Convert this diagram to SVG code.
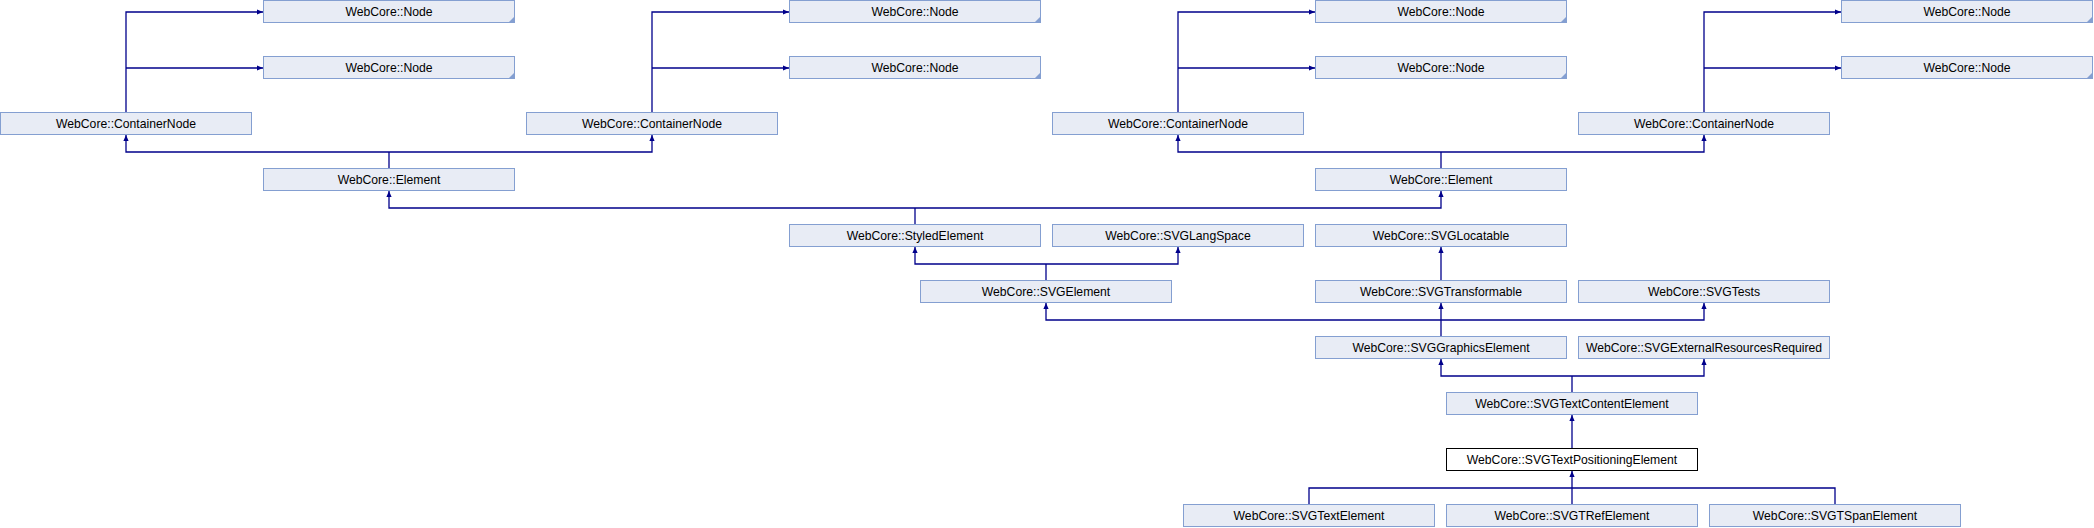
<svg xmlns="http://www.w3.org/2000/svg" width="2094" height="528" viewBox="0 0 2094 528">
<style>
.b rect{fill:#E8ECF5;stroke:#849FD1;stroke-width:1}
.b.h rect{fill:#FFFFFF;stroke:#000000}
.b text{font-family:"Liberation Sans",Arial,sans-serif;font-size:12.2px;fill:#000000;text-anchor:middle}
.b polygon{fill:#849FD1}
#edges path{fill:none;stroke:#00008B;stroke-width:1.3}
#edges path.a{marker-end:url(#arr)}
</style>
<defs>
<marker id="arr" viewBox="0 0 6 6" refX="6" refY="3" markerWidth="6" markerHeight="6" markerUnits="userSpaceOnUse" orient="auto">
<path d="M0,0.4 L6,3 L0,5.6 z" fill="#00008B"/>
</marker>
</defs>
<rect width="2094" height="528" fill="#FFFFFF"/>
<g id="edges">
<path class="a" d="M126,112 V12 H263"/>
<path class="a" d="M126,68 H263"/>
<path class="a" d="M652,112 V12 H789"/>
<path class="a" d="M652,68 H789"/>
<path class="a" d="M1178,112 V12 H1315"/>
<path class="a" d="M1178,68 H1315"/>
<path class="a" d="M1704,112 V12 H1841"/>
<path class="a" d="M1704,68 H1841"/>
<path d="M389,168 V152"/>
<path class="a" d="M389,152 H126 V135"/>
<path class="a" d="M389,152 H652 V135"/>
<path d="M1441,168 V152"/>
<path class="a" d="M1441,152 H1178 V135"/>
<path class="a" d="M1441,152 H1704 V135"/>
<path d="M915,224 V208"/>
<path class="a" d="M915,208 H389 V191"/>
<path class="a" d="M915,208 H1441 V191"/>
<path d="M1046,280 V264"/>
<path class="a" d="M1046,264 H915 V247"/>
<path class="a" d="M1046,264 H1178 V247"/>
<path class="a" d="M1441,280 V247"/>
<path class="a" d="M1441,336 V303"/>
<path class="a" d="M1441,320 H1046 V303"/>
<path class="a" d="M1441,320 H1704 V303"/>
<path d="M1572,392 V376"/>
<path class="a" d="M1572,376 H1441 V359"/>
<path class="a" d="M1572,376 H1704 V359"/>
<path class="a" d="M1572,448 V415"/>
<path class="a" d="M1572,504 V471"/>
<path d="M1309,504 V488 H1835 V504"/>
</g>
<g id="node_r0_1" class="b"><rect x="263.5" y="0.5" width="251" height="22"/><polygon points="514,17 514,23 508,23"/><text x="389" y="16">WebCore::Node</text></g>
<g id="node_r0_3" class="b"><rect x="789.5" y="0.5" width="251" height="22"/><polygon points="1040,17 1040,23 1034,23"/><text x="915" y="16">WebCore::Node</text></g>
<g id="node_r0_5" class="b"><rect x="1315.5" y="0.5" width="251" height="22"/><polygon points="1566,17 1566,23 1560,23"/><text x="1441" y="16">WebCore::Node</text></g>
<g id="node_r0_7" class="b"><rect x="1841.5" y="0.5" width="251" height="22"/><polygon points="2092,17 2092,23 2086,23"/><text x="1967" y="16">WebCore::Node</text></g>
<g id="node_r1_1" class="b"><rect x="263.5" y="56.5" width="251" height="22"/><polygon points="514,73 514,79 508,79"/><text x="389" y="72">WebCore::Node</text></g>
<g id="node_r1_3" class="b"><rect x="789.5" y="56.5" width="251" height="22"/><polygon points="1040,73 1040,79 1034,79"/><text x="915" y="72">WebCore::Node</text></g>
<g id="node_r1_5" class="b"><rect x="1315.5" y="56.5" width="251" height="22"/><polygon points="1566,73 1566,79 1560,79"/><text x="1441" y="72">WebCore::Node</text></g>
<g id="node_r1_7" class="b"><rect x="1841.5" y="56.5" width="251" height="22"/><polygon points="2092,73 2092,79 2086,79"/><text x="1967" y="72">WebCore::Node</text></g>
<g id="containernode_0" class="b"><rect x="0.5" y="112.5" width="251" height="22"/><text x="126" y="128">WebCore::ContainerNode</text></g>
<g id="containernode_2" class="b"><rect x="526.5" y="112.5" width="251" height="22"/><text x="652" y="128">WebCore::ContainerNode</text></g>
<g id="containernode_4" class="b"><rect x="1052.5" y="112.5" width="251" height="22"/><text x="1178" y="128">WebCore::ContainerNode</text></g>
<g id="containernode_6" class="b"><rect x="1578.5" y="112.5" width="251" height="22"/><text x="1704" y="128">WebCore::ContainerNode</text></g>
<g id="element_1" class="b"><rect x="263.5" y="168.5" width="251" height="22"/><text x="389" y="184">WebCore::Element</text></g>
<g id="element_5" class="b"><rect x="1315.5" y="168.5" width="251" height="22"/><text x="1441" y="184">WebCore::Element</text></g>
<g id="styledelement" class="b"><rect x="789.5" y="224.5" width="251" height="22"/><text x="915" y="240">WebCore::StyledElement</text></g>
<g id="svglangspace" class="b"><rect x="1052.5" y="224.5" width="251" height="22"/><text x="1178" y="240">WebCore::SVGLangSpace</text></g>
<g id="svglocatable" class="b"><rect x="1315.5" y="224.5" width="251" height="22"/><text x="1441" y="240">WebCore::SVGLocatable</text></g>
<g id="svgelement" class="b"><rect x="920.5" y="280.5" width="251" height="22"/><text x="1046" y="296">WebCore::SVGElement</text></g>
<g id="svgtransformable" class="b"><rect x="1315.5" y="280.5" width="251" height="22"/><text x="1441" y="296">WebCore::SVGTransformable</text></g>
<g id="svgtests" class="b"><rect x="1578.5" y="280.5" width="251" height="22"/><text x="1704" y="296">WebCore::SVGTests</text></g>
<g id="svggraphicselement" class="b"><rect x="1315.5" y="336.5" width="251" height="22"/><text x="1441" y="352">WebCore::SVGGraphicsElement</text></g>
<g id="svgexternalresourcesrequired" class="b"><rect x="1578.5" y="336.5" width="251" height="22"/><text x="1704" y="352">WebCore::SVGExternalResourcesRequired</text></g>
<g id="svgtextcontentelement" class="b"><rect x="1446.5" y="392.5" width="251" height="22"/><text x="1572" y="408">WebCore::SVGTextContentElement</text></g>
<g id="svgtextpositioningelement" class="b h"><rect x="1446.5" y="448.5" width="251" height="22"/><text x="1572" y="464">WebCore::SVGTextPositioningElement</text></g>
<g id="svgtextelement" class="b"><rect x="1183.5" y="504.5" width="251" height="22"/><text x="1309" y="520">WebCore::SVGTextElement</text></g>
<g id="svgtrefelement" class="b"><rect x="1446.5" y="504.5" width="251" height="22"/><text x="1572" y="520">WebCore::SVGTRefElement</text></g>
<g id="svgtspanelement" class="b"><rect x="1709.5" y="504.5" width="251" height="22"/><text x="1835" y="520">WebCore::SVGTSpanElement</text></g>
</svg>
